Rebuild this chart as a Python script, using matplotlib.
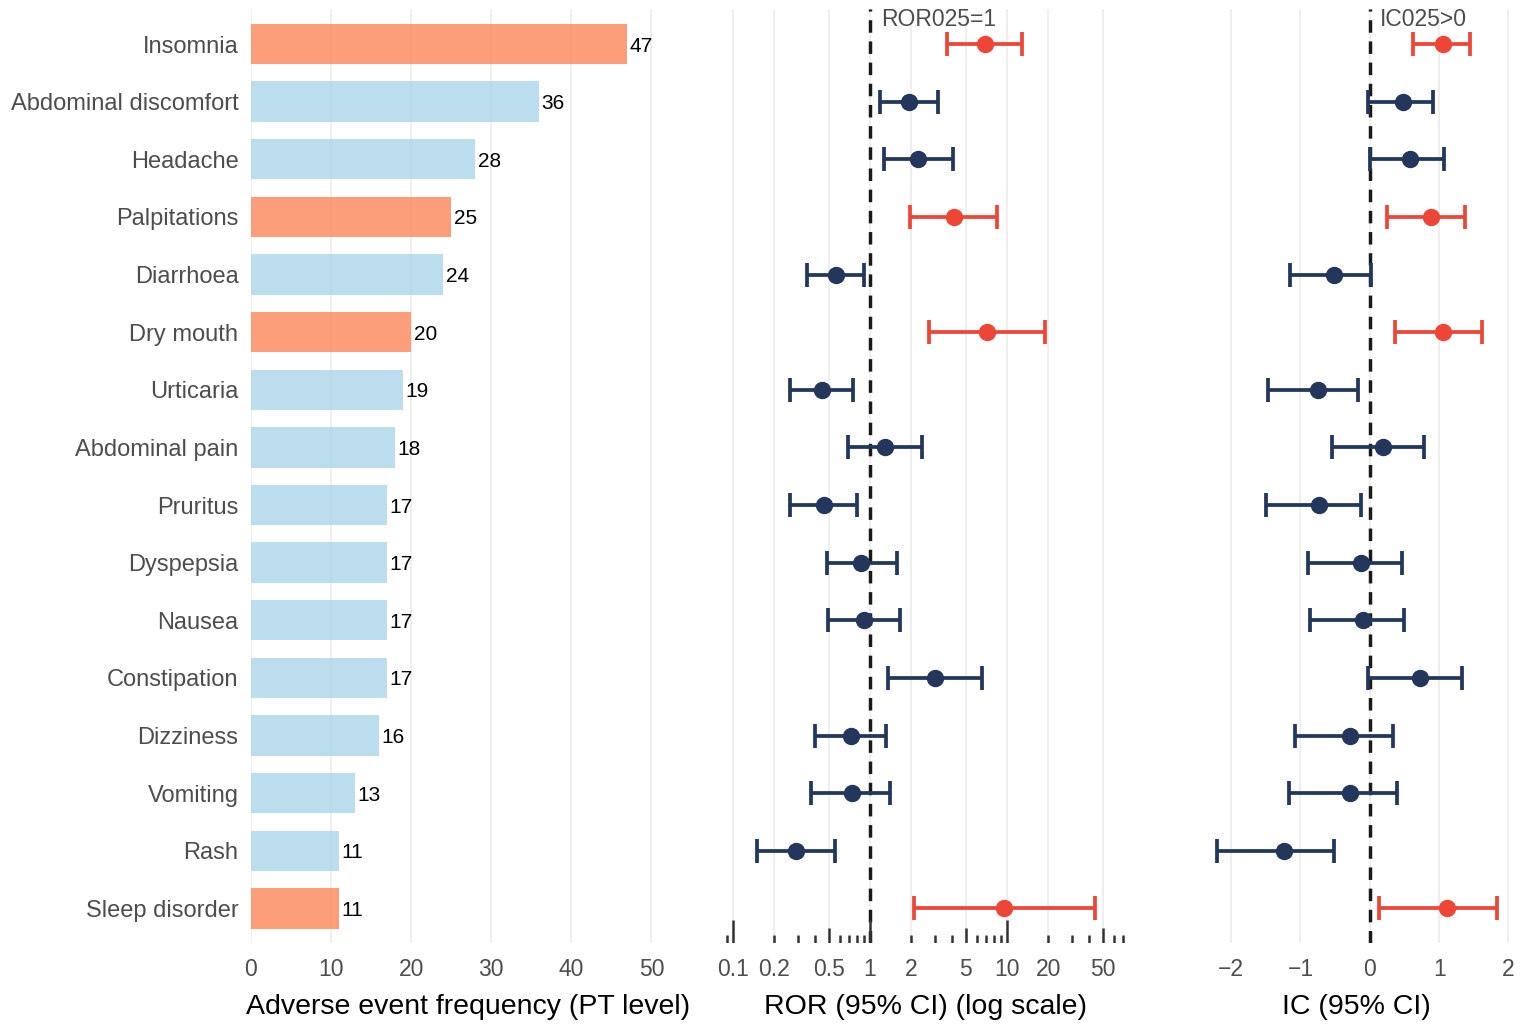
import numpy as np
import matplotlib
matplotlib.use("Agg")
import matplotlib.pyplot as plt

plt.rcParams['font.family'] = ['Liberation Sans', 'DejaVu Sans']

# data, top row first
events = ["Insomnia", "Abdominal discomfort", "Headache", "Palpitations", "Diarrhoea",
          "Dry mouth", "Urticaria", "Abdominal pain", "Pruritus", "Dyspepsia", "Nausea",
          "Constipation", "Dizziness", "Vomiting", "Rash", "Sleep disorder"]
counts = [47, 36, 28, 25, 24, 20, 19, 18, 17, 17, 17, 17, 16, 13, 11, 11]
signal = [True, False, False, True, False, True, False, False, False, False, False,
          False, False, False, False, True]

ror = [6.9, 1.93, 2.24, 4.1, 0.565, 7.14, 0.447, 1.29, 0.46, 0.86, 0.90, 2.98, 0.73, 0.74, 0.29, 9.5]
ror_lo = [3.65, 1.18, 1.26, 1.96, 0.347, 2.7, 0.26, 0.69, 0.26, 0.485, 0.494, 1.35, 0.40, 0.37, 0.15, 2.09]
ror_hi = [12.9, 3.13, 4.03, 8.45, 0.90, 18.9, 0.75, 2.4, 0.80, 1.57, 1.65, 6.57, 1.31, 1.40, 0.555, 43.9]

ic = [1.06, 0.48, 0.58, 0.88, -0.52, 1.06, -0.75, 0.19, -0.73, -0.13, -0.10, 0.73, -0.29, -0.28, -1.24, 1.11]
ic_lo = [0.62, -0.02, 0.0, 0.25, -1.15, 0.36, -1.47, -0.54, -1.50, -0.89, -0.86, -0.03, -1.08, -1.17, -2.21, 0.13]
ic_hi = [1.44, 0.91, 1.07, 1.38, 0.01, 1.62, -0.17, 0.78, -0.13, 0.47, 0.50, 1.33, 0.33, 0.39, -0.52, 1.83]

bar_cols = {True: '#FC8D62', False: '#B0D7EB'}
pt_cols = {True: '#EE4636', False: '#22375B'}
grid_col = '#EBEBEB'
tick_col = '#4D4D4D'
dash = (0, (3.6, 2.5))

y = np.arange(len(events))

fig = plt.figure(figsize=(15.22, 10.27), dpi=100)
bot, hgt = 0.0818, 0.909
ax1 = fig.add_axes([0.1649, bot, 0.2852, hgt])
ax2 = fig.add_axes([0.4752, bot, 0.2652, hgt])
ax3 = fig.add_axes([0.7884, bot, 0.2050, hgt])

for ax in (ax1, ax2, ax3):
    for s in ax.spines.values():
        s.set_visible(False)
    ax.set_ylim(len(events) - 0.4, -0.6)
    ax.grid(axis='x', color=grid_col, lw=1.1, zorder=0)
    ax.set_axisbelow(True)
    ax.tick_params(axis='x', length=0, labelsize=16.5, labelcolor=tick_col, pad=11)
    ax.tick_params(axis='y', length=0)

# frequency bars
ax1.barh(y, counts, height=0.7, color=[bar_cols[s] for s in signal], alpha=0.85, zorder=2)
for yi, c in zip(y, counts):
    ax1.text(c + 0.3, yi, str(c), ha='left', va='center_baseline', fontsize=15, color='black')
ax1.set_xlim(0, 54.2)
ax1.set_xticks([0, 10, 20, 30, 40, 50])
ax1.set_yticks(y)
ax1.set_yticklabels(events, fontsize=17, color=tick_col)
ax1.tick_params(axis='y', pad=9)
ax1.set_xlabel("Adverse event frequency (PT level)", fontsize=20.5, labelpad=9)

# ROR panel
ax2.set_xscale('log')
ax2.set_xlim(0.085, 75)
ax2.set_yticks([])
ror_ticks = [0.1, 0.2, 0.5, 1, 2, 5, 10, 20, 50]
ax2.set_xticks(ror_ticks)
ax2.set_xticklabels([f"{t:g}" for t in ror_ticks])
ax2.xaxis.set_minor_locator(matplotlib.ticker.NullLocator())
ax2.axvline(1, color='#1A1A1A', lw=2.5, ls=dash, zorder=3)
for i in range(len(events)):
    c = pt_cols[signal[i]]
    ax2.errorbar(ror[i], y[i], xerr=[[ror[i] - ror_lo[i]], [ror_hi[i] - ror[i]]],
                 fmt='o', color=c, ms=11.5, elinewidth=2.7, capsize=8.3, capthick=2.7, zorder=4)
# log ticks along the bottom
trans = ax2.get_xaxis_transform()
lo_lim, hi_lim = ax2.get_xlim()
for dec in [0.01, 0.1, 1, 10]:
    for k in range(1, 10):
        v = k * dec
        if lo_lim <= v <= hi_lim:
            ln = 0.025 if k == 1 else (0.016 if k == 5 else 0.0086)
            ax2.plot([v, v], [0, ln], transform=trans, color='#333333', lw=1.8,
                     solid_capstyle='butt', zorder=3)
ax2.annotate("ROR025=1", xy=(1, -0.42), xytext=(8, 0), textcoords='offset points',
             ha='left', va='center', fontsize=16.5, color=tick_col)
ax2.set_xlabel("ROR (95% CI) (log scale)", fontsize=20.5, labelpad=9)

# IC panel
ax3.set_xlim(-2.45, 2.05)
ax3.set_yticks([])
ax3.set_xticks([-2, -1, 0, 1, 2])
ax3.set_xticklabels(["\u22122", "\u22121", "0", "1", "2"])
ax3.axvline(0, color='#1A1A1A', lw=2.5, ls=dash, zorder=3)
for i in range(len(events)):
    c = pt_cols[signal[i]]
    ax3.errorbar(ic[i], y[i], xerr=[[ic[i] - ic_lo[i]], [ic_hi[i] - ic[i]]],
                 fmt='o', color=c, ms=11.5, elinewidth=2.7, capsize=8.3, capthick=2.7, zorder=4)
ax3.annotate("IC025>0", xy=(0, -0.42), xytext=(7, 0), textcoords='offset points',
             ha='left', va='center', fontsize=16.5, color=tick_col)
ax3.set_xlabel("IC (95% CI)", fontsize=20.5, labelpad=9)

fig.savefig("out.png", dpi=100)
